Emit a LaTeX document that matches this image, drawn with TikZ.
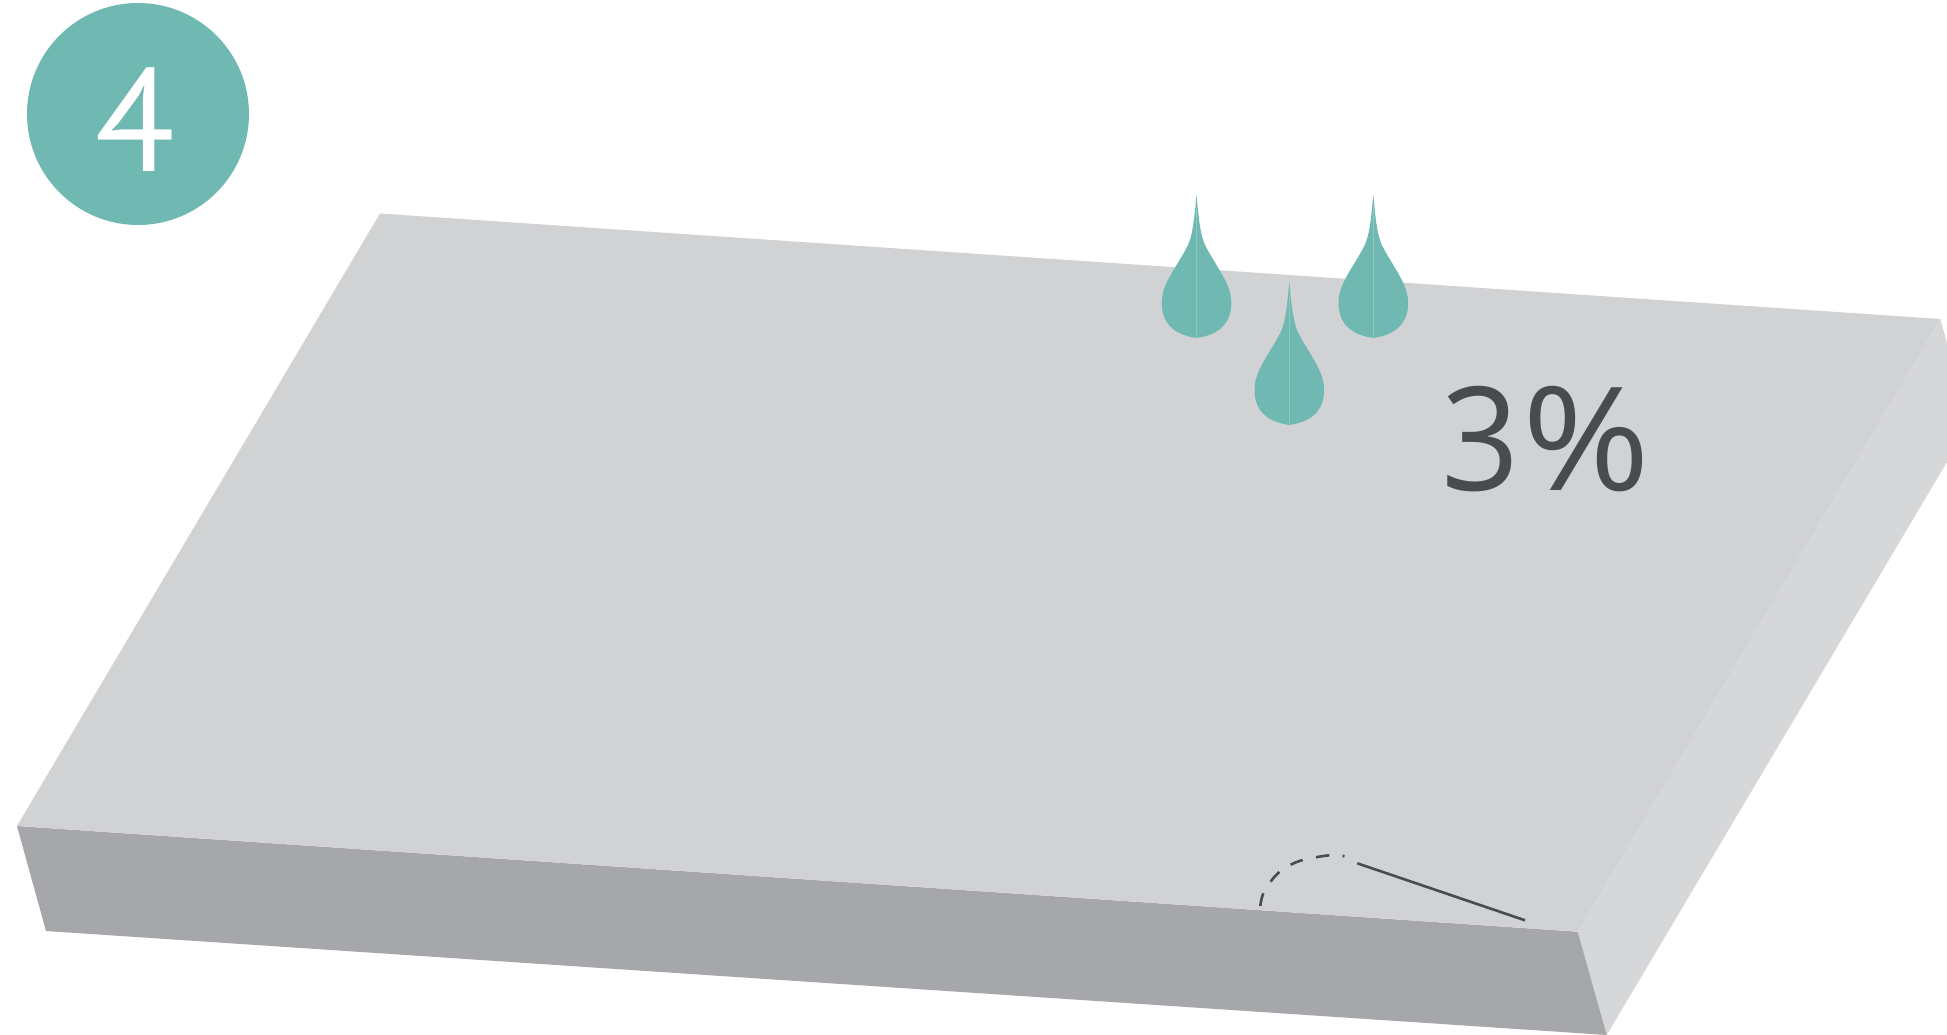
\documentclass[tikz,border=0pt]{standalone}
\usepackage{fontspec}
\setmainfont{Open Sans}
\newfontfamily\numfont{PT Sans}
\definecolor{topc}{HTML}{D1D2D4}
\definecolor{frontc}{HTML}{A6A7AB}
\definecolor{sidec}{HTML}{D6D7D9}
\definecolor{tealc}{HTML}{70B9B2}
\definecolor{tealline}{HTML}{8FC6C1}
\definecolor{inkc}{HTML}{4A4B4D}
\tikzset{
  dropshape/.pic={
    \fill[tealc] (0,0) .. controls (-1.5,15) and (-3,38) .. (-8.5,50)
      .. controls (-15,63) and (-25,77) .. (-30,88)
      .. controls (-33,94) and (-34.8,101) .. (-34.8,108)
      .. controls (-34.8,126) and (-25,139.5) .. (0,143)
      .. controls (25,139.5) and (34.8,126) .. (34.8,108)
      .. controls (34.8,101) and (33,94) .. (30,88)
      .. controls (25,77) and (15,63) .. (8.5,50)
      .. controls (3,38) and (1.5,15) .. (0,0) -- cycle;
    \draw[tealline,line width=0.7pt] (0,12) -- (0,143);
  },
  dashline/.style={draw=inkc,line width=2.6pt},
  bigtext/.style={text=inkc,font=\fontsize{144}{144}\selectfont,inner sep=0pt,anchor=base}
}
\begin{document}
\begin{tikzpicture}[x=1pt,y=-1pt]
\useasboundingbox (0,0) rectangle (1947,1035);
\fill[white] (0,0) rectangle (1947,1035);
% slab
\fill[sidec] (1940.3,319) -- (1947,343) -- (1947,462) -- (1606.7,1035) -- (1577.7,931.7) -- cycle;
\fill[frontc] (17,826) -- (1577.7,931.7) -- (1606.7,1035) -- (46,931) -- cycle;
\fill[topc] (380,213.5) -- (1940.3,319) -- (1577.7,931.7) -- (17,826) -- cycle;
% badge
\node[circle,fill=tealc,minimum size=222pt,inner sep=0pt] (badge) at (138,114) {};
\node[text=white,font=\numfont\fontsize{146}{146}\selectfont,inner sep=0pt,anchor=base] (num) at (135.5,172) {4};
% drops
\pic at (1196.5,195) {dropshape};
\pic at (1373.3,195) {dropshape};
\pic at (1289.3,282) {dropshape};
% percent
\node[bigtext] (three) at (1480.5,490) {\scalebox{0.95}[1]{3}};
\node[bigtext] (pct) at (1586.5,490) {\scalebox{1.08}[1]{\%}};
% angle mark
\draw[dashline] (1260.3,906) .. controls (1260.8,901) and (1262,897) .. (1263.3,893.3);
\draw[dashline] (1270.7,881.7) .. controls (1273,878) and (1276,875) .. (1279.3,872);
\draw[dashline] (1290.7,864.7) .. controls (1294.5,862.8) and (1298.5,861.2) .. (1302.7,860);
\draw[dashline] (1316,857.3) .. controls (1320.5,856.3) and (1325,855.7) .. (1329.3,855.3);
\draw[dashline] (1342.5,856) -- (1344.5,856.1);
\coordinate (la) at (1357.3,863.3);
\coordinate (lb) at (1525,920.3);
\draw[dashline] (la) -- (lb);
\end{tikzpicture}
\end{document}
